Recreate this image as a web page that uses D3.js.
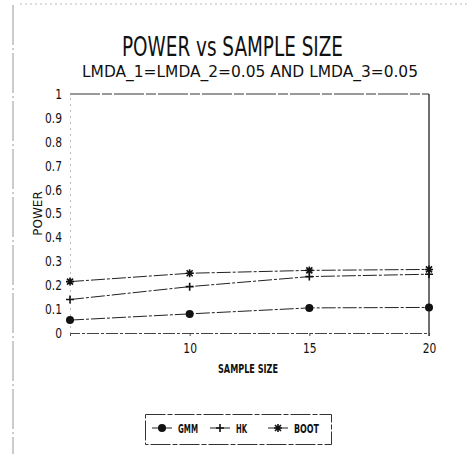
<!DOCTYPE html>
<html>
<head>
<meta charset="utf-8">
<script src="https://cdn.jsdelivr.net/npm/d3@7"></script>
<style>
  body { margin: 0; background: #fff; }
  svg { display: block; }
  text { fill: #111; }
</style>
</head>
<body>
<div id="viz"></div>
<script>
var width = 467,
    height = 454;

// data
var sampleSizes = [5, 10, 15, 20];
var gmm  = [0.054, 0.08, 0.105, 0.107];
var hk   = [0.14, 0.194, 0.236, 0.246];
var boot = [0.215, 0.25, 0.262, 0.266];
var yTicks = [0, 0.1, 0.2, 0.3, 0.4, 0.5, 0.6, 0.7, 0.8, 0.9, 1];
var xTicks = [10, 15, 20];

var series = [
  {name: "GMM", values: gmm, marker: "dot"},
  {name: "HK", values: hk, marker: "plus"},
  {name: "BOOT", values: boot, marker: "star"}
];

var margin = {left: 70, right: 38, top: 94, bottom: 121};

var svg = d3.select("#viz").append("svg")
    .attr("width", width)
    .attr("height", height);

var x = d3.scaleLinear()
    .domain([5, 20])
    .range([margin.left, width - margin.right]);

var y = d3.scaleLinear()
    .domain([0, 1])
    .range([height - margin.bottom, margin.top]);

var font = "'DejaVu Sans Condensed', 'Liberation Sans Narrow', 'DejaVu Sans', sans-serif";

// squeeze a text to a given width (the plotter font is narrow)
function squeeze(sel, w) {
  sel.attr("textLength", w).attr("lengthAdjust", "spacingAndGlyphs");
}
function squeezeBy(sel, f) {
  sel.each(function() {
    var len = this.getComputedTextLength();
    d3.select(this).attr("textLength", len * f).attr("lengthAdjust", "spacingAndGlyphs");
  });
}

// faint scan border
svg.append("line")
    .attr("x1", 13).attr("x2", 13).attr("y1", 5).attr("y2", height)
    .attr("stroke", "#999").attr("stroke-width", 1)
    .attr("stroke-dasharray", "40,3,2,3");
svg.append("line")
    .attr("x1", 20).attr("x2", width).attr("y1", 4).attr("y2", 4)
    .attr("stroke", "#bbb").attr("stroke-width", 1)
    .attr("stroke-dasharray", "2,3");

// titles
svg.append("text")
    .attr("x", 122).attr("y", 56)
    .style("font-family", font)
    .style("font-size", "27px")
    .style("font-weight", "300")
    .text("POWER vs SAMPLE SIZE")
    .call(squeeze, 221);

svg.append("text")
    .attr("x", 82).attr("y", 77)
    .style("font-family", font)
    .style("font-size", "15px")
    .text("LMDA_1=LMDA_2=0.05  AND  LMDA_3=0.05")
    .call(squeeze, 336);

// frame: top and right lines
svg.append("line")
    .attr("x1", x(5)).attr("x2", x(20)).attr("y1", y(1)).attr("y2", y(1))
    .attr("stroke", "#333").attr("stroke-width", 1)
    .attr("stroke-dasharray", "30,2,10,2");
svg.append("line")
    .attr("x1", x(20)).attr("x2", x(20)).attr("y1", y(1)).attr("y2", y(0) + 3)
    .attr("stroke", "#222").attr("stroke-width", 1.3);

// y axis
var yAxis = svg.append("g")
    .attr("transform", "translate(" + x(5) + ",0)")
    .call(d3.axisLeft(y).tickValues(yTicks).tickSize(0).tickPadding(8)
        .tickFormat(function(d) { return d === 0 || d === 1 ? d3.format("d")(d) : d3.format(".1f")(d); }));
yAxis.select(".domain").attr("stroke", "#777").attr("stroke-dasharray", "1,5");
yAxis.selectAll("text")
    .style("font-family", font)
    .style("font-size", "14px")
    .call(squeezeBy, 0.85);

// x axis
var xAxis = svg.append("g")
    .attr("transform", "translate(0," + y(0) + ")")
    .call(d3.axisBottom(x).tickValues(xTicks).tickSize(3).tickPadding(7)
        .tickFormat(d3.format("d")));
xAxis.select(".domain").attr("stroke", "#444").attr("stroke-dasharray", "12,2,3,2");
xAxis.selectAll("line").attr("stroke", "#444");
xAxis.selectAll("text")
    .style("font-family", font)
    .style("font-size", "14px")
    .call(squeezeBy, 0.85);

// axis titles
svg.append("text")
    .attr("transform", "translate(42," + y(0.5) + ") rotate(-90)")
    .attr("text-anchor", "middle")
    .style("font-family", "'DejaVu Sans', sans-serif")
    .style("font-size", "12px")
    .text("POWER");

svg.append("text")
    .attr("x", 218).attr("y", 373)
    .style("font-family", font)
    .style("font-size", "13px")
    .style("font-weight", "bold")
    .text("SAMPLE SIZE")
    .call(squeeze, 60);

// markers
function drawMarker(g, type, cx, cy) {
  if (type === "dot") {
    g.append("circle").attr("cx", cx).attr("cy", cy).attr("r", 4).attr("fill", "#111");
  } else if (type === "plus") {
    g.append("path")
        .attr("d", "M" + (cx - 4) + "," + cy + "H" + (cx + 4) + "M" + cx + "," + (cy - 4) + "V" + (cy + 4))
        .attr("stroke", "#111").attr("stroke-width", 1.6);
  } else {
    g.append("path")
        .attr("d", "M" + (cx - 4) + "," + cy + "H" + (cx + 4) + "M" + cx + "," + (cy - 4) + "V" + (cy + 4) +
             "M" + (cx - 3) + "," + (cy - 3) + "L" + (cx + 3) + "," + (cy + 3) +
             "M" + (cx - 3) + "," + (cy + 3) + "L" + (cx + 3) + "," + (cy - 3))
        .attr("stroke", "#111").attr("stroke-width", 1.6);
  }
}

var line = d3.line()
    .x(function(d, i) { return x(sampleSizes[i]); })
    .y(function(d) { return y(d); });

series.forEach(function(s) {
  var g = svg.append("g");
  g.append("path")
      .attr("d", line(s.values))
      .attr("fill", "none")
      .attr("stroke", "#222")
      .attr("stroke-width", 1)
      .attr("stroke-dasharray", "14,2,3,2");
  s.values.forEach(function(v, i) {
    drawMarker(g, s.marker, x(sampleSizes[i]), y(v));
  });
});

// legend
var legend = svg.append("g");
legend.append("rect")
    .attr("x", 145.5).attr("y", 414.5).attr("width", 186).attr("height", 30)
    .attr("fill", "none").attr("stroke", "#333").attr("stroke-width", 1)
    .attr("stroke-dasharray", "20,2,5,2");

var legendPos = [152, 210, 268];
var legendTextX = [178, 236, 294];
var legendTextW = [20, 11, 25];
series.forEach(function(s, i) {
  var ly = 428;
  legend.append("line")
      .attr("x1", legendPos[i]).attr("x2", legendPos[i] + 20)
      .attr("y1", ly).attr("y2", ly)
      .attr("stroke", "#222").attr("stroke-width", 1);
  drawMarker(legend, s.marker, legendPos[i] + 10, ly);
  legend.append("text")
      .attr("x", legendTextX[i]).attr("y", ly + 4.5)
      .style("font-family", font)
      .style("font-size", "12px")
      .style("font-weight", "bold")
      .text(s.name)
      .call(squeeze, legendTextW[i]);
});
</script>
</body>
</html>
